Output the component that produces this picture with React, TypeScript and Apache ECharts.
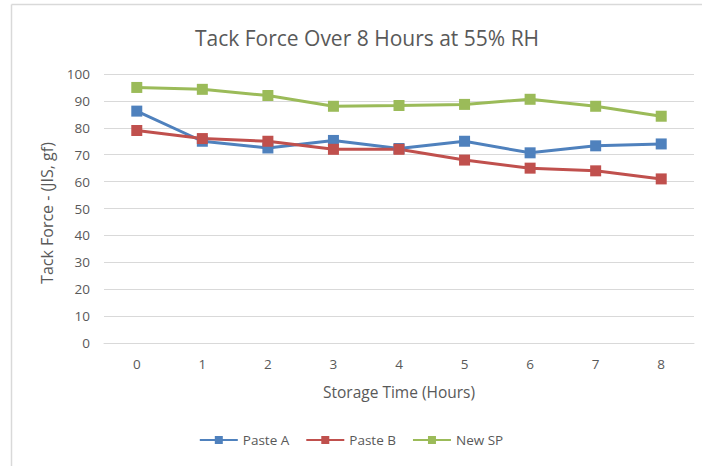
import React, { useEffect, useRef } from "react";
import * as echarts from "echarts";

const categories = ["0", "1", "2", "3", "4", "5", "6", "7", "8"];
const pasteA = [86.2, 75, 72.5, 75.3, 72.3, 75, 70.7, 73.3, 74];
const pasteB = [79, 76, 75, 72, 72, 68, 65, 64, 61];
const newSP = [95, 94.3, 92, 88, 88.3, 88.7, 90.6, 88, 84.3];
const seriesNames = ["Paste A", "Paste B", "New SP"];
const colors = ["#4F81BD", "#C0504D", "#9BBB59"];

const FONT = "'Open Sans', 'Noto Sans', sans-serif";

export default function App() {
  const ref = useRef<HTMLDivElement>(null);
  useEffect(() => {
    if (!ref.current) return;
    const chart = echarts.init(ref.current, undefined, { renderer: "svg" });
    const data = [pasteA, pasteB, newSP];
    chart.setOption({
      animation: false,
      backgroundColor: "#ffffff",
      title: {
        text: "Tack Force Over 8 Hours at 55% RH",
        left: 362,
        top: 22,
        textAlign: "center",
        textStyle: { fontFamily: FONT, fontSize: 21, fontWeight: "normal", color: "#595959" },
      },
      legend: {
        bottom: 14,
        left: "center",
        itemWidth: 38,
        itemHeight: 10,
        itemGap: 16,
        textStyle: { fontFamily: FONT, fontSize: 13.5, color: "#595959" },
        data: seriesNames,
      },
      grid: { left: 104, right: 8, top: 74, bottom: 466 - 343, containLabel: false },
      xAxis: {
        type: "category",
        data: categories,
        boundaryGap: true,
        axisLine: { show: true, lineStyle: { color: "#D9D9D9", width: 1 } },
        axisTick: { show: false },
        axisLabel: { fontFamily: FONT, fontSize: 13.5, color: "#595959", margin: 14 },
        name: "Storage Time (Hours)",
        nameLocation: "middle",
        nameGap: 41,
        nameTextStyle: { fontFamily: FONT, fontSize: 15.5, color: "#595959" },
      },
      yAxis: {
        type: "value",
        min: 0,
        max: 100,
        interval: 10,
        axisLine: { show: false },
        axisTick: { show: false },
        splitLine: { lineStyle: { color: "#D9D9D9", width: 1 } },
        axisLabel: { fontFamily: FONT, fontSize: 13.5, color: "#595959", margin: 14 },
      },
      graphic: [
        { type: "line", shape: { x1: 11.5, y1: 4.5, x2: 11.5, y2: 466 }, style: { stroke: "#D9D9D9", lineWidth: 1.5 } },
        { type: "line", shape: { x1: 11.5, y1: 4.5, x2: 702, y2: 4.5 }, style: { stroke: "#D9D9D9", lineWidth: 1.5 } },
        {
          type: "text",
          x: 47,
          y: 213,
          rotation: Math.PI / 2,
          style: {
            text: "Tack Force - (JIS, gf)",
            fontFamily: FONT,
            fontSize: 16,
            fill: "#595959",
            align: "center",
            verticalAlign: "middle",
            textAlign: "center",
            textVerticalAlign: "middle",
          },
        },
      ],
      series: seriesNames.map((name, i) => ({
        name,
        type: "line",
        data: data[i],
        symbol: "rect",
        symbolSize: 11,
        lineStyle: { color: colors[i], width: 3 },
        itemStyle: { color: colors[i] },
      })),
    });
    return () => chart.dispose();
  }, []);
  return (
    <div
      ref={ref}
      style={{ position: "absolute", left: 0, top: 0, width: 702, height: 466 }}
    />
  );
}
